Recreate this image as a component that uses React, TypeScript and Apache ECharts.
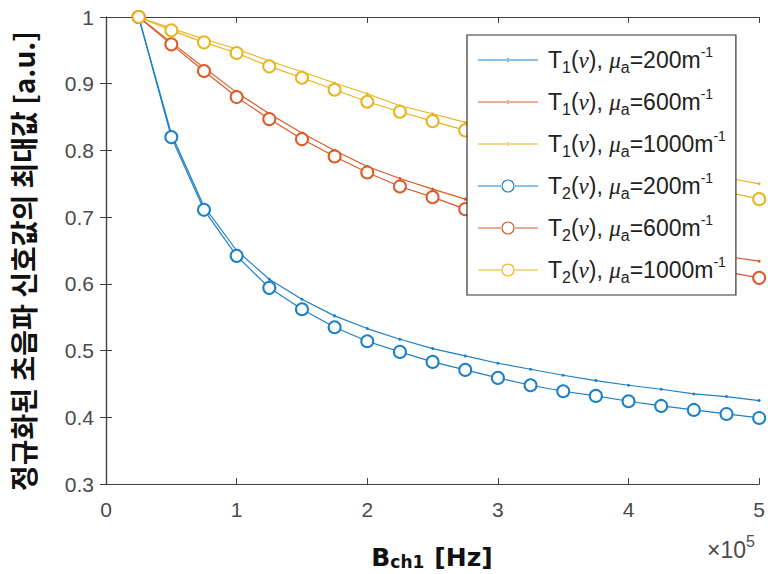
import React, { useEffect, useRef } from "react";
import * as echarts from "echarts";

const xValues = [0.25, 0.5, 0.75, 1, 1.25, 1.5, 1.75, 2, 2.25, 2.5, 2.75, 3, 3.25, 3.5, 3.75, 4, 4.25, 4.5, 4.75, 5];

const t1Mu200 = [1, 0.825, 0.716, 0.65, 0.607, 0.577, 0.552, 0.533, 0.517, 0.503, 0.492, 0.481, 0.472, 0.463, 0.455, 0.448, 0.442, 0.435, 0.431, 0.425];
const t1Mu600 = [1, 0.962, 0.924, 0.887, 0.855, 0.826, 0.8, 0.776, 0.758, 0.742, 0.727, 0.714, 0.702, 0.69, 0.679, 0.668, 0.658, 0.649, 0.641, 0.634];
const t1Mu1000 = [1, 0.983, 0.967, 0.952, 0.934, 0.918, 0.901, 0.885, 0.867, 0.855, 0.842, 0.83, 0.819, 0.808, 0.797, 0.787, 0.777, 0.768, 0.759, 0.75];
const t2Mu200 = [1, 0.82, 0.711, 0.642, 0.594, 0.562, 0.535, 0.514, 0.498, 0.483, 0.471, 0.459, 0.448, 0.439, 0.432, 0.424, 0.417, 0.411, 0.405, 0.399];
const t2Mu600 = [1, 0.959, 0.919, 0.88, 0.847, 0.817, 0.791, 0.767, 0.746, 0.73, 0.712, 0.698, 0.685, 0.672, 0.66, 0.648, 0.637, 0.627, 0.618, 0.609];
const t2Mu1000 = [1, 0.98, 0.962, 0.946, 0.926, 0.909, 0.891, 0.873, 0.858, 0.844, 0.83, 0.817, 0.805, 0.793, 0.782, 0.771, 0.76, 0.749, 0.738, 0.727];

const seriesNames = [
  "T1(ν), μa=200m-1",
  "T1(ν), μa=600m-1",
  "T1(ν), μa=1000m-1",
  "T2(ν), μa=200m-1",
  "T2(ν), μa=600m-1",
  "T2(ν), μa=1000m-1",
];
const seriesData = [t1Mu200, t1Mu600, t1Mu1000, t2Mu200, t2Mu600, t2Mu1000];
const legendParts = [
  ["1", "200"],
  ["1", "600"],
  ["1", "1000"],
  ["2", "200"],
  ["2", "600"],
  ["2", "1000"],
];

const yTitle = "정규화된 초음파 신호값의 최대값 [a.u.]";

const COLORS = ["#1a80c8", "#dc5a26", "#e9b41c"];
const AXIS_COLOR = "#404040";
const NUM_FONT = "'Liberation Sans', Arial, sans-serif";

// legend icons: thin line with a small dot (T1) or with a hollow ring (T2)
const ICON_DOT =
  "path://M0,5.4 H60 V6.6 H0 Z M28.3,6 a1.7,1.7 0 1,0 3.4,0 a1.7,1.7 0 1,0 -3.4,0 Z";
const ICON_RING =
  "path://M0,5.4 H24 V6.6 H0 Z M36,5.4 H60 V6.6 H36 Z M23.4,6 a6.6,6.6 0 1,0 13.2,0 a6.6,6.6 0 1,0 -13.2,0 Z M24.6,6 a5.4,5.4 0 1,1 10.8,0 a5.4,5.4 0 1,1 -10.8,0 Z";

export default function App() {
  const ref = useRef<HTMLDivElement>(null);
  useEffect(() => {
    if (!ref.current) return;
    const chart = echarts.init(ref.current, null, { renderer: "svg" });

    const series = seriesData.map((vals, i) => {
      const isT2 = i >= 3;
      const color = COLORS[i % 3];
      return {
        name: seriesNames[i],
        type: "line",
        data: vals.map((v, k) => [xValues[k], v]),
        symbol: isT2 ? "emptyCircle" : "circle",
        symbolSize: isT2 ? 12 : 3,
        showSymbol: true,
        lineStyle: { color, width: 1.2 },
        itemStyle: { color, borderColor: color, borderWidth: isT2 ? 1.2 : 0 },
        z: isT2 ? 3 : 2,
      };
    });

    const legendMap: Record<string, string> = {};
    seriesNames.forEach((n, i) => {
      const [t, mu] = legendParts[i];
      legendMap[n] = `{g| }{n|T}{sub|${t}}{n|(}{it|ν}{n|), }{it|μ}{sub|a}{n|=${mu}m}{sup|-1}`;
    });

    const option: any = {
      animation: false,
      backgroundColor: "#ffffff",
      grid: {
        left: 106,
        right: 7,
        top: 17,
        bottom: 90,
        show: false,
      },
      xAxis: [
        {
          type: "value",
          min: 0,
          max: 5,
          interval: 1,
          position: "bottom",
          axisLine: { show: true, lineStyle: { color: AXIS_COLOR, width: 1.2 } },
          axisTick: { show: true, inside: true, length: 6, lineStyle: { color: AXIS_COLOR } },
          axisLabel: {
            color: "#4a4a4a",
            fontSize: 21,
            fontFamily: NUM_FONT,
            margin: 15,
          },
          splitLine: { show: false },
        },
        {
          type: "value",
          min: 0,
          max: 5,
          interval: 1,
          position: "top",
          axisLine: { show: true, lineStyle: { color: AXIS_COLOR, width: 1.2 } },
          axisTick: { show: true, inside: true, length: 6, lineStyle: { color: AXIS_COLOR } },
          axisLabel: { show: false },
          splitLine: { show: false },
        },
      ],
      yAxis: [
        {
          type: "value",
          min: 0.3,
          max: 1,
          interval: 0.1,
          position: "left",
          axisLine: { show: true, lineStyle: { color: AXIS_COLOR, width: 1.2 } },
          axisTick: { show: true, inside: true, length: 6, lineStyle: { color: AXIS_COLOR } },
          axisLabel: {
            color: "#4a4a4a",
            fontSize: 21,
            fontFamily: NUM_FONT,
            margin: 12,
            formatter: (v: number) => (Math.abs(v - 1) < 1e-9 ? "1" : v.toFixed(1)),
          },
          splitLine: { show: false },
        },
        {
          type: "value",
          min: 0.3,
          max: 1,
          interval: 0.1,
          position: "right",
          axisLine: { show: true, lineStyle: { color: AXIS_COLOR, width: 1.2 } },
          axisTick: { show: true, inside: true, length: 6, lineStyle: { color: AXIS_COLOR } },
          axisLabel: { show: false },
          splitLine: { show: false },
        },
      ],
      legend: {
        show: true,
        orient: "vertical",
        left: 467,
        top: 35,
        align: "left",
        backgroundColor: "#ffffff",
        borderColor: "#333333",
        borderWidth: 1.2,
        borderRadius: 0,
        padding: [10, 10, 10, 11],
        itemWidth: 60,
        itemHeight: 14,
        itemGap: 12,
        itemStyle: { borderWidth: 0 },
        data: seriesNames.map((n, i) => ({
          name: n,
          icon: i >= 3 ? ICON_RING : ICON_DOT,
          itemStyle: { borderWidth: 0 },
        })),
        formatter: (name: string) => legendMap[name] || name,
        textStyle: {
          color: "#222222",
          rich: {
            g: { fontSize: 10, width: 5, lineHeight: 30 },
            n: { fontSize: 23, fontFamily: NUM_FONT, color: "#222", lineHeight: 30, verticalAlign: "middle" },
            it: {
              fontSize: 23,
              fontFamily: "'Liberation Serif', 'DejaVu Serif', serif",
              fontStyle: "italic",
              color: "#222",
              lineHeight: 30,
              verticalAlign: "middle",
            },
            sub: { fontSize: 16, fontFamily: NUM_FONT, color: "#222", lineHeight: 16, verticalAlign: "bottom" },
            sup: { fontSize: 14, fontFamily: NUM_FONT, color: "#222", lineHeight: 14, verticalAlign: "top" },
          },
        },
      },
      graphic: [
        {
          type: "text",
          x: 23,
          y: 261,
          rotation: Math.PI / 2,
          style: {
            text: yTitle,
            fontSize: 28,
            fontWeight: "bold",
            fontFamily: "'Noto Sans CJK KR', sans-serif",
            fill: "#111111",
            textAlign: "center",
            textVerticalAlign: "middle",
          },
        },
        {
          type: "text",
          x: 432,
          y: 555,
          style: {
            text: "{b|B}{s|ch1}{sp| }{b|[Hz]}",
            textAlign: "center",
            textVerticalAlign: "middle",
            rich: {
              b: { fontSize: 25, fontWeight: "bold", fontFamily: "'DejaVu Sans', sans-serif", fill: "#111", lineHeight: 30, verticalAlign: "bottom" },
              s: { fontSize: 17, fontWeight: "bold", fontFamily: "'DejaVu Sans', sans-serif", fill: "#111", lineHeight: 24, verticalAlign: "bottom" },
              sp: { fontSize: 10, width: 10, lineHeight: 30 },
            },
          },
        },
        {
          type: "text",
          x: 731,
          y: 547,
          style: {
            text: "{a|×10}{p|5}",
            textAlign: "center",
            textVerticalAlign: "middle",
            rich: {
              a: { fontSize: 23, fontFamily: NUM_FONT, fill: "#4a4a4a", lineHeight: 28, verticalAlign: "bottom" },
              p: { fontSize: 16, fontFamily: NUM_FONT, fill: "#4a4a4a", lineHeight: 16, verticalAlign: "top" },
            },
          },
        },
      ],
      series,
    };

    chart.setOption(option);
    return () => chart.dispose();
  }, []);

  return <div ref={ref} style={{ width: 768, height: 574, position: "absolute", left: 0, top: 0 }} />;
}
